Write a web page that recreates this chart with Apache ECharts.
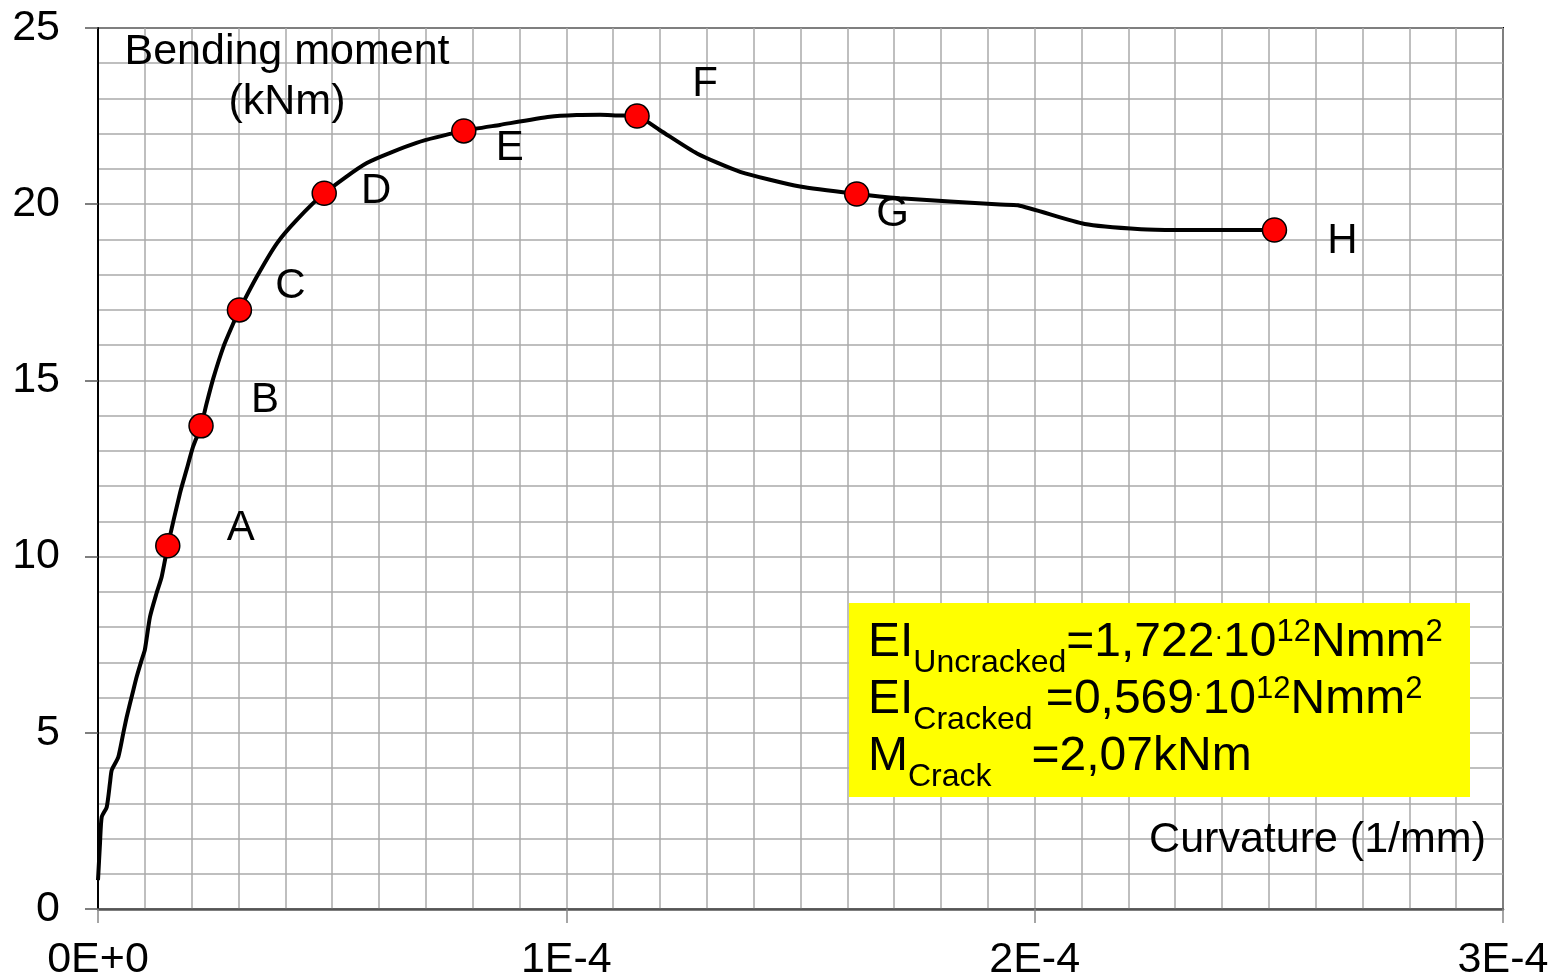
<!DOCTYPE html>
<html>
<head>
<meta charset="utf-8">
<script src="https://cdn.jsdelivr.net/npm/echarts@6/dist/echarts.min.js"></script>
<style>
  html, body { margin: 0; padding: 0; background: #fff; }
  #chart { width: 1553px; height: 977px; }
</style>
</head>
<body>
<div id="chart"></div>
<script>
// measured curve (curvature in 1/mm, moment in kNm)
var curvature = [0, 0.43e-6, 0.79e-6, 1.86e-6, 2.56e-6, 2.93e-6, 4.33e-6, 5.4e-6, 6.13e-6, 7.54e-6,
  8.26e-6, 9.33e-6, 1.0e-5, 1.11e-5, 1.25e-5, 1.36e-5, 1.49e-5, 1.75e-5, 1.89e-5, 2.03e-5,
  2.2e-5, 2.32e-5, 2.46e-5, 2.68e-5, 2.89e-5, 3.02e-5, 3.39e-5, 3.82e-5, 4.24e-5, 4.83e-5,
  5.74e-5, 6.8e-5, 7.81e-5, 8.58e-5, 9.65e-5, 1.022e-4, 1.072e-4, 1.108e-4, 1.151e-4, 1.2e-4,
  1.279e-4, 1.371e-4, 1.499e-4, 1.62e-4, 1.712e-4, 1.926e-4, 1.964e-4, 2.107e-4, 2.227e-4, 2.303e-4,
  2.512e-4];
var moment = [0.82, 1.87, 2.61, 2.89, 3.58, 3.94, 4.31, 4.99, 5.45, 6.21,
  6.59, 7.07, 7.35, 8.29, 8.96, 9.43, 10.31, 11.80, 12.46, 13.12,
  13.71, 14.35, 15.05, 15.96, 16.62, 17.0, 17.94, 18.89, 19.55, 20.31,
  21.17, 21.74, 22.08, 22.25, 22.48, 22.53, 22.54, 22.52, 22.5, 22.1,
  21.44, 20.92, 20.5, 20.29, 20.17, 19.99, 19.97, 19.44, 19.29, 19.27,
  19.27];

// marked points
var pointNames = ['A', 'B', 'C', 'D', 'E', 'F', 'G', 'H'];
var pointCurvature = [1.49e-5, 2.2e-5, 3.02e-5, 4.83e-5, 7.81e-5, 1.151e-4, 1.62e-4, 2.512e-4];
var pointMoment = [10.31, 13.71, 17.0, 20.31, 22.08, 22.5, 20.29, 19.27];

var xTickLabels = ['0E+0', '1E-4', '2E-4', '3E-4'];
var yTickLabels = ['0', '5', '10', '15', '20', '25'];

var FONT = '"Liberation Sans", Arial, sans-serif';

// where each letter sits relative to its dot
var labelOffsets = {
  A: [73, -17], B: [64, -25], C: [51, -23], D: [52, -2],
  E: [46, 18], F: [68, -32], G: [36, 20], H: [68, 11]
};

var lineData = curvature.map(function (c, i) { return [c, moment[i]]; });
var pointData = pointNames.map(function (n, i) {
  return {
    name: n,
    value: [pointCurvature[i], pointMoment[i]],
    label: { offset: labelOffsets[n] }
  };
});

var chart = echarts.init(document.getElementById('chart'));

var option = {
  animation: false,
  backgroundColor: '#fff',
  grid: {
    left: 98, right: 50, top: 28, bottom: 68,
    containLabel: false, outerBoundsMode: 'none',
    show: true, borderColor: '#000', borderWidth: 2
  },
  xAxis: {
    type: 'value',
    min: 0, max: 3e-4, interval: 1e-4,
    axisLine: { show: true, lineStyle: { color: '#555', width: 2.5 } },
    axisTick: { show: true, length: 14, lineStyle: { color: '#888', width: 1.5 } },
    axisLabel: {
      fontSize: 43, color: '#000', fontFamily: FONT, margin: 30,
      formatter: function (v) { return xTickLabels[Math.round(v / 1e-4)]; }
    },
    splitLine: { show: true, lineStyle: { color: '#aaa', width: 1.5 } },
    minorTick: { show: false, splitNumber: 10 },
    minorSplitLine: { show: true, lineStyle: { color: '#aaa', width: 1.5 } }
  },
  yAxis: {
    type: 'value',
    min: 0, max: 25, interval: 5,
    axisLine: { show: true, lineStyle: { color: '#000', width: 2 } },
    axisTick: { show: true, length: 13, lineStyle: { color: '#555', width: 1.5 } },
    axisLabel: {
      fontSize: 43, color: '#000', fontFamily: FONT, margin: 38,
      formatter: function (v) { return yTickLabels[Math.round(v / 5)]; }
    },
    splitLine: { show: true, lineStyle: { color: '#aaa', width: 1.5 } },
    minorTick: { show: false, splitNumber: 5 },
    minorSplitLine: { show: true, lineStyle: { color: '#aaa', width: 1.5 } }
  },
  series: [
    {
      type: 'line',
      data: lineData,
      showSymbol: false,
      smooth: 0.2,
      lineStyle: { color: '#000', width: 4 },
      z: 2
    },
    {
      type: 'scatter',
      data: pointData,
      symbol: 'circle',
      symbolSize: 24,
      itemStyle: { color: '#ff0000', borderColor: '#000', borderWidth: 1.5, opacity: 1 },
      label: {
        show: true, position: 'inside', formatter: '{b}',
        fontSize: 42, color: '#000', fontFamily: FONT, opacity: 1
      },
      z: 3
    }
  ],
  graphic: [
    {
      type: 'text',
      x: 287, y: 27,
      style: {
        text: 'Bending moment\n(kNm)',
        font: '43px ' + FONT,
        fill: '#000',
        align: 'center',
        lineHeight: 50
      },
      z: 10
    },
    {
      type: 'text',
      x: 1486, y: 819,
      style: {
        text: 'Curvature (1/mm)',
        font: '43px ' + FONT,
        fill: '#000',
        align: 'right'
      },
      z: 10
    },
    {
      type: 'rect',
      shape: { x: 849, y: 603, width: 621, height: 194 },
      style: { fill: '#ffff00' },
      z: 10
    },
    {
      type: 'text',
      x: 868, y: 614,
      style: {
        text: '{b|EI}{s|Uncracked}{b|=1,722}{d|·}{b|10}{p|12}{b|Nmm}{p|2}\n' +
              '{b|EI}{s|Cracked}{b| =0,569}{d|·}{b|10}{p|12}{b|Nmm}{p|2}\n' +
              '{b|M}{s|Crack}{b|   =2,07kNm}',
        fill: '#000',
        rich: {
          b: { fontSize: 48, fontFamily: FONT, lineHeight: 57, verticalAlign: 'bottom', padding: [0, 0, 4, 0] },
          s: { fontSize: 32, fontFamily: FONT, lineHeight: 57, verticalAlign: 'bottom', padding: [0, 0, -8, 0] },
          p: { fontSize: 31, fontFamily: FONT, lineHeight: 57, verticalAlign: 'top', padding: [3, 0, 0, 0] },
          d: { fontSize: 26, fontFamily: FONT, lineHeight: 57, verticalAlign: 'bottom', padding: [0, 0, 20, 0] }
        }
      },
      z: 11
    }
  ]
};

chart.setOption(option);
</script>
</body>
</html>
